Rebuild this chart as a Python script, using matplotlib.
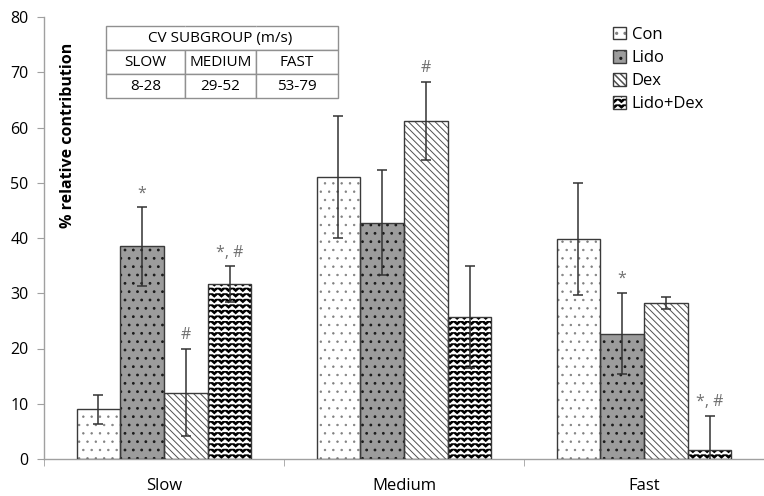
import numpy as np
import matplotlib
matplotlib.use('Agg')
import matplotlib.pyplot as plt
import matplotlib.hatch as mhatch
from matplotlib.path import Path
from matplotlib.legend_handler import HandlerTuple

# ---------------- data ----------------
categories = ['Slow', 'Medium', 'Fast']
series = ['Con', 'Lido', 'Dex', 'Lido+Dex']
con = [9.0, 51.0, 39.8]
con_err = [2.6, 11.0, 10.2]
lido = [38.5, 42.8, 22.7]
lido_err = [7.1, 9.5, 7.4]
dex = [12.0, 61.2, 28.2]
dex_err = [7.9, 7.1, 1.1]
lidodex = [31.7, 25.7, 1.6]
lidodex_err = [3.2, 9.2, 6.2]
con_marks = ['', '', '']
lido_marks = ['*', '', '*']
dex_marks = ['#', '#', '']
lidodex_marks = ['*, #', '', '*, #']
table_header = 'CV SUBGROUP (m/s)'
table_groups = ['SLOW', 'MEDIUM', 'FAST']
table_ranges = ['8-28', '29-52', '53-79']
y_ticks = [0, 10, 20, 30, 40, 50, 60, 70, 80]


# ------------- custom zigzag hatch (replaces '|') -------------
class ZigzagHatch(mhatch.HatchPatternBase):
    def __init__(self, hatch, density):
        n = hatch.count('|')
        self.num_rows = int(n * density)
        self.num_teeth = 14
        self.pts = 2 * self.num_teeth + 1
        self.num_vertices = self.num_rows * self.pts

    def set_vertices_and_codes(self, vertices, codes):
        step = 1.0 / self.num_rows
        amp = 0.28 * step
        xs = np.linspace(0, 1, self.pts)
        offs = np.where(np.arange(self.pts) % 2 == 0, -amp, amp)
        for r in range(self.num_rows):
            yc = (r + 0.5) * step
            sl = slice(r * self.pts, (r + 1) * self.pts)
            vertices[sl, 0] = xs
            vertices[sl, 1] = yc + offs
            codes[sl] = Path.LINETO
            codes[r * self.pts] = Path.MOVETO


mhatch._hatch_types = [ZigzagHatch if c is mhatch.VerticalHatch else c
                       for c in mhatch._hatch_types]

plt.rcParams['font.family'] = ['Open Sans', 'DejaVu Sans']

fig = plt.figure(figsize=(7.64, 4.96), dpi=100)
ax = fig.add_axes([44 / 764, 37 / 496, 720 / 764, 442 / 496])

values = [con, lido, dex, lidodex]
errors = [con_err, lido_err, dex_err, lidodex_err]
marks = [con_marks, lido_marks, dex_marks, lidodex_marks]
faces = ['white', '#9c9c9c', 'white', 'black']
hatch_cols = ['#808080', '#1a1a1a', '#505050', 'white']
hatches = ['..', '..', '\\' * 5, '|||']
hatch_lws = [0.5, 0.8, 0.7, 1.1]
outline = '#3a3a3a'

x = np.arange(len(categories))
w = 0.182
handles = []
for j in range(4):
    xs = x + (j - 1.5) * w
    plt.rcParams['hatch.linewidth'] = hatch_lws[j]
    b = ax.bar(xs, values[j], width=w, color=faces[j], edgecolor=hatch_cols[j],
               hatch=hatches[j], linewidth=0, zorder=2)
    o = ax.bar(xs, values[j], width=w, fill=False, edgecolor=outline,
               linewidth=1.0, zorder=3)
    handles.append((b, o))
    ax.errorbar(xs, values[j], yerr=errors[j], fmt='none', ecolor='#333333',
                elinewidth=1.1, capsize=3.5, capthick=1.1, zorder=4)
    for k in range(len(categories)):
        if marks[j][k]:
            ax.annotate(marks[j][k], (xs[k], values[j][k] + errors[j][k]),
                        xytext=(0, 4), textcoords='offset points',
                        ha='center', va='bottom', fontsize=11.5, color='#707070')

ax.set_xlim(-0.5, 2.5)
ax.set_ylim(0, 80)
ax.set_yticks(y_ticks)
ax.set_xticks(x)
ax.set_xticklabels(categories, fontsize=12)
ax.set_xticks([-0.5, 0.5, 1.5, 2.5], minor=True)
ax.tick_params(axis='x', which='major', length=0, pad=14)
ax.tick_params(axis='x', which='minor', length=5, color='#a0a0a0')
ax.tick_params(axis='y', length=5, color='#a0a0a0', labelsize=11.5, pad=6)
for s in ['top', 'right']:
    ax.spines[s].set_visible(False)
for s in ['left', 'bottom']:
    ax.spines[s].set_color('#a0a0a0')
    ax.spines[s].set_linewidth(1.0)

fig.text(68 / 764, 1 - 135 / 496, '% relative contribution', rotation=90,
         ha='center', va='center', fontsize=11.5, fontweight='bold')

leg = ax.legend(handles=handles, labels=series, loc='upper left',
                handler_map={tuple: HandlerTuple(ndivide=1, pad=0)},
                bbox_to_anchor=(606 / 764, 1 - 20 / 496),
                bbox_transform=fig.transFigure, frameon=False, fontsize=12,
                handlelength=0.8, handleheight=0.8, handletextpad=0.35,
                labelspacing=0.42, borderaxespad=0)

tbl = ax.table(cellText=[['', table_header, ''], table_groups, table_ranges],
               cellLoc='center', colWidths=[79, 71, 82],
               bbox=[(106 - 44) / 720, (459 - 98) / 442,
                     (338 - 106) / 720, 72 / 442], zorder=5)
tbl.auto_set_font_size(False)
tbl.set_fontsize(11)
for (r, c), cell in tbl.get_celld().items():
    cell.set_edgecolor('#909090')
    cell.set_linewidth(1.0)
    cell.get_text().set_clip_on(False)
    if r == 0:
        cell.set_facecolor('none')
        cell.visible_edges = {0: 'BTL', 1: 'BT', 2: 'BTR'}[c]

fig.savefig('out.png', dpi=100)
